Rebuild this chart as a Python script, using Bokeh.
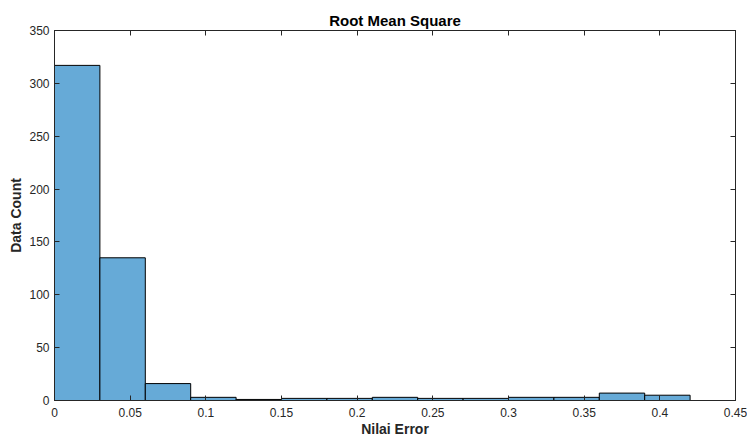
from bokeh.plotting import figure
from bokeh.models import Range1d, FixedTicker, LinearAxis
from bokeh.embed import file_html
from bokeh.resources import INLINE

bin_left = [0.00, 0.03, 0.06, 0.09, 0.12, 0.15, 0.18, 0.21, 0.24, 0.27, 0.30, 0.33, 0.36, 0.39]
bin_right = [0.03, 0.06, 0.09, 0.12, 0.15, 0.18, 0.21, 0.24, 0.27, 0.30, 0.33, 0.36, 0.39, 0.42]
counts = [317, 135, 16, 3, 1, 2, 2, 3, 2, 2, 3, 3, 7, 5]

x_ticks = [0, 0.05, 0.1, 0.15, 0.2, 0.25, 0.3, 0.35, 0.4, 0.45]
x_labels = ["0", "0.05", "0.1", "0.15", "0.2", "0.25", "0.3", "0.35", "0.4", "0.45"]
y_ticks = [0, 50, 100, 150, 200, 250, 300, 350]

AX = "#262626"
FONT = "Liberation Sans"

p = figure(width=747, height=441, output_backend="svg", toolbar_location=None,
           x_range=Range1d(0, 0.45), y_range=Range1d(0, 350),
           min_border_left=54, min_border_right=12, min_border_bottom=41, min_border_top=30,
           title="Root Mean Square")
p.title.align = "center"
p.title.text_font = FONT
p.title.text_font_size = "15px"
p.title.text_font_style = "bold"
p.title.text_color = "#000000"
p.title.standoff = 3
p.title.offset = 0

p.quad(left=bin_left, right=bin_right, bottom=0, top=counts,
       fill_color="#66AAD7", line_color="#000000", line_width=1)

p.grid.visible = False
p.outline_line_color = AX
p.outline_line_width = 1
p.background_fill_color = "white"
p.border_fill_color = "white"

def style(ax):
    ax.major_tick_in = 5
    ax.major_tick_out = 0
    ax.minor_tick_in = 0
    ax.minor_tick_out = 0
    ax.axis_line_color = AX
    ax.major_tick_line_color = AX
    ax.major_label_text_font = FONT
    ax.major_label_text_font_size = "12px"
    ax.major_label_text_color = AX
    ax.major_label_standoff = 5
    ax.axis_label_text_font = FONT
    ax.axis_label_text_font_size = "14px"
    ax.axis_label_text_font_style = "bold"
    ax.axis_label_text_color = AX
    ax.axis_label_standoff = 2

xa = p.xaxis[0]
xa.ticker = FixedTicker(ticks=x_ticks)
xa.major_label_overrides = {t: l for t, l in zip(x_ticks, x_labels)}
xa.axis_label = "Nilai Error"
style(xa)
xa.major_label_standoff = 7
xa.axis_label_standoff = 1

ya = p.yaxis[0]
ya.ticker = FixedTicker(ticks=y_ticks)
ya.axis_label = "Data Count"
style(ya)

top = LinearAxis(ticker=FixedTicker(ticks=x_ticks))
style(top)
top.major_label_overrides = {t: "" for t in x_ticks}
p.add_layout(top, "above")
right = LinearAxis(ticker=FixedTicker(ticks=y_ticks))
style(right)
right.major_label_overrides = {t: "" for t in y_ticks}
p.add_layout(right, "right")

open("out.html", "w").write(file_html(p, INLINE))
